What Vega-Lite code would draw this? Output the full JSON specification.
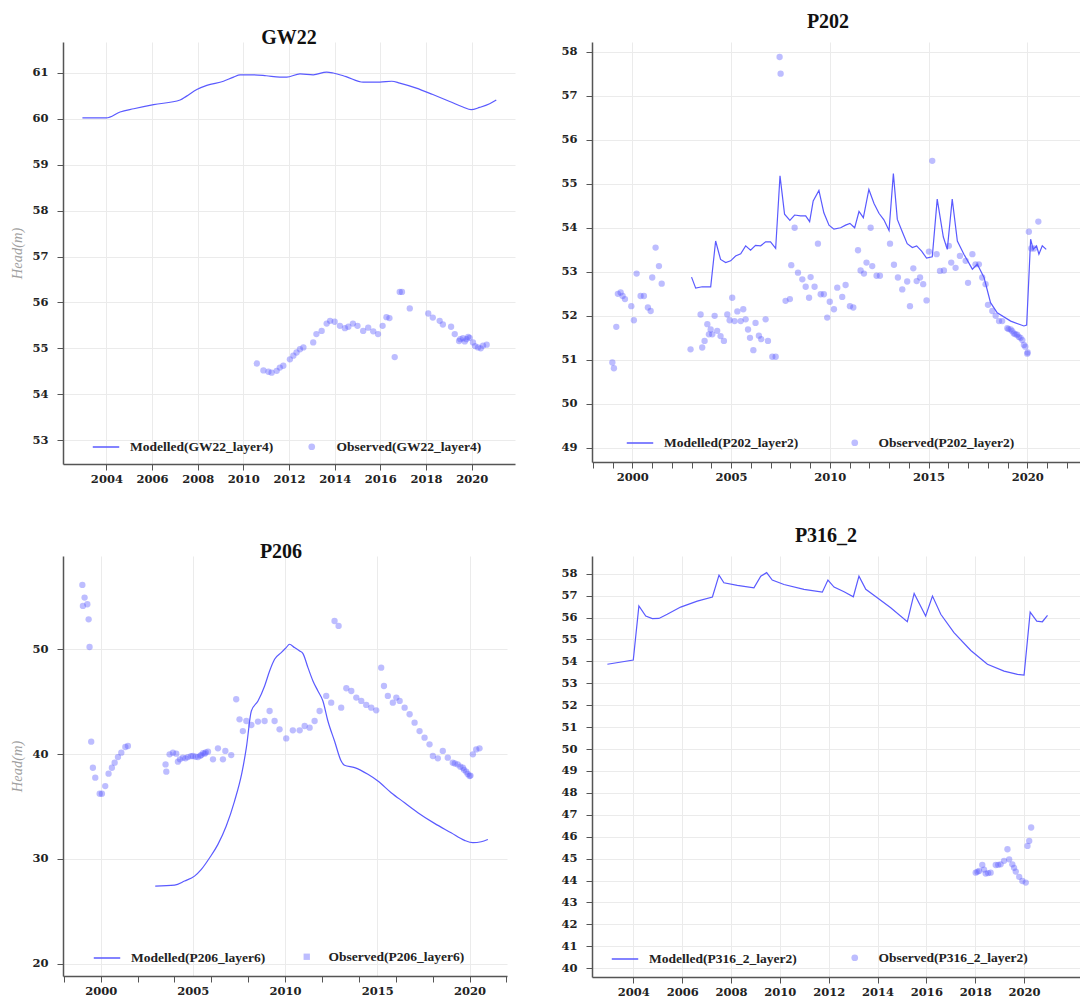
{
"$schema":"https://vega.github.io/schema/vega-lite/v6.json",
"padding":{"left":9,"top":12,"right":0,"bottom":0},
"autosize":{"type":"pad"},
"datasets":{
"gw22_m":[{"year":2002.95,"head":60.02},{"year":2004.0,"head":60.02},{"year":2004.6,"head":60.15},{"year":2005.2,"head":60.22},{"year":2006.07,"head":60.31},{"year":2007.23,"head":60.41},{"year":2007.5,"head":60.49},{"year":2007.96,"head":60.64},{"year":2008.4,"head":60.73},{"year":2009.13,"head":60.82},{"year":2009.57,"head":60.91},{"year":2009.86,"head":60.96},{"year":2010.44,"head":60.96},{"year":2011.0,"head":60.94},{"year":2011.6,"head":60.91},{"year":2011.9,"head":60.91},{"year":2012.48,"head":60.98},{"year":2013.06,"head":60.96},{"year":2013.65,"head":61.02},{"year":2013.94,"head":61.0},{"year":2014.5,"head":60.92},{"year":2015.25,"head":60.8},{"year":2015.98,"head":60.8},{"year":2016.5,"head":60.82},{"year":2016.85,"head":60.78},{"year":2017.58,"head":60.67},{"year":2018.3,"head":60.53},{"year":2019.04,"head":60.38},{"year":2019.62,"head":60.26},{"year":2019.98,"head":60.2},{"year":2020.35,"head":60.25},{"year":2020.79,"head":60.33},{"year":2021.08,"head":60.41}],
"gw22_o":[{"year":2010.59,"head":54.67},{"year":2010.88,"head":54.52},{"year":2011.1,"head":54.49},{"year":2011.24,"head":54.47},{"year":2011.46,"head":54.51},{"year":2011.6,"head":54.58},{"year":2011.75,"head":54.62},{"year":2012.04,"head":54.76},{"year":2012.19,"head":54.84},{"year":2012.33,"head":54.91},{"year":2012.48,"head":54.98},{"year":2012.63,"head":55.02},{"year":2013.06,"head":55.13},{"year":2013.2,"head":55.31},{"year":2013.43,"head":55.38},{"year":2013.65,"head":55.54},{"year":2013.8,"head":55.6},{"year":2014.0,"head":55.58},{"year":2014.23,"head":55.49},{"year":2014.45,"head":55.44},{"year":2014.6,"head":55.47},{"year":2014.8,"head":55.54},{"year":2015.0,"head":55.49},{"year":2015.25,"head":55.38},{"year":2015.47,"head":55.45},{"year":2015.69,"head":55.37},{"year":2015.9,"head":55.31},{"year":2016.1,"head":55.49},{"year":2016.27,"head":55.68},{"year":2016.4,"head":55.66},{"year":2016.63,"head":54.81},{"year":2016.85,"head":56.23},{"year":2016.95,"head":56.23},{"year":2017.29,"head":55.87},{"year":2018.1,"head":55.76},{"year":2018.3,"head":55.67},{"year":2018.6,"head":55.6},{"year":2018.74,"head":55.52},{"year":2019.1,"head":55.47},{"year":2019.26,"head":55.31},{"year":2019.45,"head":55.16},{"year":2019.5,"head":55.2},{"year":2019.62,"head":55.22},{"year":2019.7,"head":55.15},{"year":2019.77,"head":55.2},{"year":2019.85,"head":55.25},{"year":2019.91,"head":55.23},{"year":2020.06,"head":55.13},{"year":2020.15,"head":55.05},{"year":2020.28,"head":55.02},{"year":2020.4,"head":55.0},{"year":2020.5,"head":55.06},{"year":2020.66,"head":55.08}],
"p202_m":[{"year":2003.0,"head":52.88},{"year":2003.21,"head":52.63},{"year":2003.54,"head":52.66},{"year":2003.97,"head":52.66},{"year":2004.22,"head":53.7},{"year":2004.47,"head":53.28},{"year":2004.73,"head":53.21},{"year":2004.98,"head":53.25},{"year":2005.23,"head":53.36},{"year":2005.49,"head":53.41},{"year":2005.74,"head":53.59},{"year":2005.99,"head":53.49},{"year":2006.24,"head":53.6},{"year":2006.5,"head":53.59},{"year":2006.75,"head":53.68},{"year":2007.0,"head":53.68},{"year":2007.26,"head":53.53},{"year":2007.48,"head":55.18},{"year":2007.71,"head":54.31},{"year":2007.98,"head":54.17},{"year":2008.22,"head":54.29},{"year":2008.52,"head":54.27},{"year":2008.78,"head":54.27},{"year":2008.98,"head":54.14},{"year":2009.16,"head":54.61},{"year":2009.45,"head":54.85},{"year":2009.7,"head":54.34},{"year":2009.96,"head":54.06},{"year":2010.21,"head":53.97},{"year":2010.55,"head":54.0},{"year":2010.8,"head":54.06},{"year":2011.02,"head":54.1},{"year":2011.26,"head":54.0},{"year":2011.48,"head":54.37},{"year":2011.7,"head":54.23},{"year":2011.98,"head":54.87},{"year":2012.24,"head":54.55},{"year":2012.49,"head":54.33},{"year":2012.74,"head":54.18},{"year":2013.0,"head":53.94},{"year":2013.22,"head":55.23},{"year":2013.42,"head":54.19},{"year":2013.67,"head":53.91},{"year":2013.92,"head":53.64},{"year":2014.18,"head":53.55},{"year":2014.4,"head":53.59},{"year":2014.65,"head":53.47},{"year":2014.9,"head":53.31},{"year":2015.19,"head":53.34},{"year":2015.44,"head":54.65},{"year":2015.75,"head":53.79},{"year":2015.95,"head":53.51},{"year":2016.2,"head":54.65},{"year":2016.46,"head":53.7},{"year":2016.79,"head":53.4},{"year":2017.22,"head":53.06},{"year":2017.47,"head":53.17},{"year":2017.81,"head":52.87},{"year":2018.14,"head":52.3},{"year":2018.48,"head":52.07},{"year":2019.16,"head":51.88},{"year":2019.83,"head":51.77},{"year":2019.97,"head":51.79},{"year":2020.17,"head":53.74},{"year":2020.3,"head":53.51},{"year":2020.47,"head":53.59},{"year":2020.59,"head":53.4},{"year":2020.76,"head":53.59},{"year":2020.96,"head":53.51}],
"p202_o":[{"year":1998.99,"head":50.94},{"year":1999.07,"head":50.81},{"year":1999.19,"head":51.75},{"year":1999.27,"head":52.5},{"year":1999.41,"head":52.53},{"year":1999.51,"head":52.45},{"year":1999.63,"head":52.38},{"year":1999.95,"head":52.22},{"year":2000.08,"head":51.9},{"year":2000.22,"head":52.96},{"year":2000.42,"head":52.45},{"year":2000.59,"head":52.45},{"year":2000.79,"head":52.19},{"year":2000.93,"head":52.11},{"year":2001.01,"head":52.87},{"year":2001.18,"head":53.55},{"year":2001.35,"head":53.13},{"year":2001.49,"head":52.73},{"year":2002.95,"head":51.24},{"year":2003.46,"head":52.03},{"year":2003.54,"head":51.28},{"year":2003.66,"head":51.43},{"year":2003.8,"head":51.81},{"year":2003.88,"head":51.58},{"year":2003.97,"head":51.69},{"year":2004.05,"head":51.58},{"year":2004.17,"head":52.0},{"year":2004.3,"head":51.66},{"year":2004.47,"head":51.54},{"year":2004.64,"head":51.43},{"year":2004.81,"head":52.03},{"year":2004.93,"head":51.9},{"year":2005.06,"head":52.41},{"year":2005.18,"head":51.88},{"year":2005.32,"head":52.1},{"year":2005.49,"head":51.88},{"year":2005.62,"head":52.15},{"year":2005.74,"head":51.92},{"year":2005.86,"head":51.69},{"year":2005.96,"head":51.5},{"year":2006.13,"head":51.22},{"year":2006.24,"head":51.84},{"year":2006.41,"head":51.55},{"year":2006.53,"head":51.47},{"year":2006.75,"head":51.92},{"year":2006.87,"head":51.43},{"year":2007.09,"head":51.07},{"year":2007.26,"head":51.07},{"year":2007.46,"head":57.88},{"year":2007.51,"head":57.5},{"year":2007.76,"head":52.34},{"year":2007.98,"head":52.38},{"year":2008.05,"head":53.15},{"year":2008.22,"head":54.0},{"year":2008.39,"head":52.98},{"year":2008.61,"head":52.83},{"year":2008.78,"head":52.66},{"year":2008.95,"head":52.41},{"year":2009.03,"head":52.88},{"year":2009.23,"head":52.66},{"year":2009.4,"head":53.64},{"year":2009.54,"head":52.49},{"year":2009.7,"head":52.49},{"year":2009.87,"head":51.96},{"year":2010.0,"head":52.32},{"year":2010.21,"head":52.15},{"year":2010.38,"head":52.64},{"year":2010.63,"head":52.43},{"year":2010.8,"head":52.7},{"year":2011.02,"head":52.22},{"year":2011.19,"head":52.19},{"year":2011.43,"head":53.49},{"year":2011.56,"head":53.03},{"year":2011.73,"head":52.96},{"year":2011.86,"head":53.21},{"year":2012.07,"head":54.0},{"year":2012.15,"head":53.13},{"year":2012.37,"head":52.91},{"year":2012.54,"head":52.91},{"year":2013.05,"head":53.64},{"year":2013.25,"head":53.16},{"year":2013.45,"head":52.87},{"year":2013.67,"head":52.6},{"year":2013.92,"head":52.78},{"year":2014.06,"head":52.22},{"year":2014.23,"head":53.08},{"year":2014.4,"head":52.79},{"year":2014.57,"head":52.87},{"year":2014.73,"head":52.72},{"year":2014.9,"head":52.35},{"year":2015.02,"head":53.46},{"year":2015.19,"head":55.52},{"year":2015.41,"head":53.4},{"year":2015.58,"head":53.02},{"year":2015.78,"head":53.03},{"year":2016.03,"head":53.59},{"year":2016.15,"head":53.21},{"year":2016.37,"head":53.09},{"year":2016.59,"head":53.36},{"year":2016.88,"head":53.25},{"year":2017.0,"head":52.75},{"year":2017.22,"head":53.4},{"year":2017.38,"head":53.17},{"year":2017.55,"head":53.17},{"year":2017.72,"head":52.87},{"year":2017.89,"head":52.72},{"year":2018.01,"head":52.25},{"year":2018.23,"head":52.11},{"year":2018.4,"head":52.0},{"year":2018.57,"head":51.88},{"year":2018.73,"head":51.88},{"year":2018.99,"head":51.72},{"year":2019.05,"head":51.7},{"year":2019.16,"head":51.69},{"year":2019.24,"head":51.65},{"year":2019.32,"head":51.6},{"year":2019.4,"head":51.58},{"year":2019.49,"head":51.57},{"year":2019.57,"head":51.52},{"year":2019.66,"head":51.5},{"year":2019.75,"head":51.45},{"year":2019.83,"head":51.34},{"year":2019.9,"head":51.3},{"year":2020.0,"head":51.14},{"year":2020.02,"head":51.17},{"year":2020.08,"head":53.91},{"year":2020.2,"head":53.53},{"year":2020.34,"head":53.53},{"year":2020.56,"head":54.14}],
"p206_m":[{"year":2002.96,"head":27.41},{"year":2004.01,"head":27.5},{"year":2004.55,"head":27.89},{"year":2005.09,"head":28.36},{"year":2005.46,"head":29.0},{"year":2005.91,"head":30.11},{"year":2006.36,"head":31.39},{"year":2006.81,"head":33.14},{"year":2007.26,"head":35.52},{"year":2007.66,"head":38.23},{"year":2007.9,"head":40.61},{"year":2008.17,"head":44.11},{"year":2008.53,"head":45.07},{"year":2008.89,"head":46.5},{"year":2009.16,"head":47.93},{"year":2009.43,"head":49.05},{"year":2009.79,"head":49.68},{"year":2010.06,"head":50.16},{"year":2010.24,"head":50.48},{"year":2010.51,"head":50.16},{"year":2010.79,"head":49.84},{"year":2010.97,"head":49.59},{"year":2011.24,"head":48.25},{"year":2011.51,"head":46.98},{"year":2011.78,"head":46.02},{"year":2012.05,"head":45.07},{"year":2012.32,"head":43.16},{"year":2012.68,"head":41.25},{"year":2013.04,"head":39.34},{"year":2013.22,"head":38.93},{"year":2013.77,"head":38.71},{"year":2014.49,"head":38.07},{"year":2015.03,"head":37.43},{"year":2015.75,"head":36.32},{"year":2016.48,"head":35.36},{"year":2017.2,"head":34.41},{"year":2018.1,"head":33.39},{"year":2019.0,"head":32.5},{"year":2019.73,"head":31.77},{"year":2020.18,"head":31.55},{"year":2020.63,"head":31.64},{"year":2020.99,"head":31.86}],
"p206_o":[{"year":1999.01,"head":56.14},{"year":1999.13,"head":54.93},{"year":1999.04,"head":54.14},{"year":1999.28,"head":54.3},{"year":1999.35,"head":52.86},{"year":1999.4,"head":50.22},{"year":1999.49,"head":41.19},{"year":1999.58,"head":38.7},{"year":1999.71,"head":37.75},{"year":1999.95,"head":36.22},{"year":2000.07,"head":36.22},{"year":2000.25,"head":36.95},{"year":2000.43,"head":38.13},{"year":2000.61,"head":38.7},{"year":2000.76,"head":39.18},{"year":2000.94,"head":39.72},{"year":2001.12,"head":40.14},{"year":2001.34,"head":40.68},{"year":2001.48,"head":40.77},{"year":2003.52,"head":39.02},{"year":2003.56,"head":38.32},{"year":2003.74,"head":39.98},{"year":2003.92,"head":40.14},{"year":2004.1,"head":40.04},{"year":2004.19,"head":39.28},{"year":2004.3,"head":39.5},{"year":2004.46,"head":39.66},{"year":2004.6,"head":39.6},{"year":2004.73,"head":39.72},{"year":2004.9,"head":39.8},{"year":2005.0,"head":39.82},{"year":2005.15,"head":39.75},{"year":2005.28,"head":39.72},{"year":2005.4,"head":39.85},{"year":2005.46,"head":39.91},{"year":2005.55,"head":40.1},{"year":2005.64,"head":40.04},{"year":2005.7,"head":40.15},{"year":2005.82,"head":40.23},{"year":2006.09,"head":39.5},{"year":2006.36,"head":40.55},{"year":2006.63,"head":39.5},{"year":2006.76,"head":40.3},{"year":2007.08,"head":39.91},{"year":2007.35,"head":45.23},{"year":2007.53,"head":43.32},{"year":2007.71,"head":42.2},{"year":2007.9,"head":43.16},{"year":2008.17,"head":42.78},{"year":2008.53,"head":43.1},{"year":2008.89,"head":43.16},{"year":2009.16,"head":44.11},{"year":2009.43,"head":43.16},{"year":2009.7,"head":42.36},{"year":2010.06,"head":41.5},{"year":2010.42,"head":42.27},{"year":2010.79,"head":42.27},{"year":2011.06,"head":42.68},{"year":2011.33,"head":42.52},{"year":2011.6,"head":43.16},{"year":2011.87,"head":44.11},{"year":2012.23,"head":45.55},{"year":2012.5,"head":44.91},{"year":2012.68,"head":52.7},{"year":2012.9,"head":52.23},{"year":2013.04,"head":44.43},{"year":2013.32,"head":46.28},{"year":2013.59,"head":46.02},{"year":2013.86,"head":45.39},{"year":2014.13,"head":45.07},{"year":2014.4,"head":44.69},{"year":2014.67,"head":44.43},{"year":2014.94,"head":44.18},{"year":2015.21,"head":48.25},{"year":2015.36,"head":46.5},{"year":2015.57,"head":45.55},{"year":2015.84,"head":44.91},{"year":2016.03,"head":45.39},{"year":2016.21,"head":45.07},{"year":2016.48,"head":44.43},{"year":2016.75,"head":43.8},{"year":2017.02,"head":43.0},{"year":2017.29,"head":42.2},{"year":2017.56,"head":41.57},{"year":2017.83,"head":40.93},{"year":2018.01,"head":39.82},{"year":2018.28,"head":39.6},{"year":2018.55,"head":40.3},{"year":2018.82,"head":39.66},{"year":2019.09,"head":39.18},{"year":2019.2,"head":39.1},{"year":2019.36,"head":39.02},{"year":2019.5,"head":38.8},{"year":2019.64,"head":38.7},{"year":2019.7,"head":38.5},{"year":2019.82,"head":38.32},{"year":2019.9,"head":38.1},{"year":2020.0,"head":37.91},{"year":2020.05,"head":37.95},{"year":2020.18,"head":39.98},{"year":2020.36,"head":40.45},{"year":2020.54,"head":40.55}],
"p316_m":[{"year":2002.94,"head":53.87},{"year":2004.0,"head":54.06},{"year":2004.23,"head":56.53},{"year":2004.51,"head":56.07},{"year":2004.78,"head":55.95},{"year":2005.05,"head":55.96},{"year":2005.39,"head":56.15},{"year":2005.94,"head":56.48},{"year":2006.62,"head":56.75},{"year":2007.24,"head":56.94},{"year":2007.51,"head":57.94},{"year":2007.71,"head":57.59},{"year":2008.26,"head":57.47},{"year":2008.94,"head":57.36},{"year":2009.22,"head":57.89},{"year":2009.46,"head":58.05},{"year":2009.69,"head":57.71},{"year":2010.17,"head":57.51},{"year":2010.99,"head":57.29},{"year":2011.74,"head":57.16},{"year":2011.97,"head":57.71},{"year":2012.22,"head":57.39},{"year":2012.63,"head":57.18},{"year":2013.01,"head":56.95},{"year":2013.24,"head":57.89},{"year":2013.52,"head":57.29},{"year":2013.99,"head":56.91},{"year":2014.54,"head":56.45},{"year":2015.22,"head":55.81},{"year":2015.5,"head":57.1},{"year":2015.97,"head":56.07},{"year":2016.25,"head":56.98},{"year":2016.59,"head":56.15},{"year":2017.13,"head":55.31},{"year":2017.82,"head":54.5},{"year":2018.5,"head":53.87},{"year":2019.18,"head":53.56},{"year":2019.73,"head":53.41},{"year":2020.0,"head":53.38},{"year":2020.25,"head":56.25},{"year":2020.52,"head":55.84},{"year":2020.75,"head":55.81},{"year":2020.96,"head":56.1}],
"p316_o":[{"year":2018.02,"head":44.36},{"year":2018.09,"head":44.4},{"year":2018.16,"head":44.44},{"year":2018.29,"head":44.71},{"year":2018.36,"head":44.5},{"year":2018.43,"head":44.32},{"year":2018.53,"head":44.34},{"year":2018.63,"head":44.36},{"year":2018.84,"head":44.71},{"year":2018.94,"head":44.72},{"year":2019.04,"head":44.74},{"year":2019.18,"head":44.9},{"year":2019.32,"head":45.43},{"year":2019.39,"head":44.97},{"year":2019.52,"head":44.74},{"year":2019.59,"head":44.58},{"year":2019.66,"head":44.41},{"year":2019.8,"head":44.17},{"year":2019.93,"head":43.98},{"year":2020.07,"head":43.91},{"year":2020.14,"head":45.58},{"year":2020.21,"head":45.81},{"year":2020.29,"head":46.42}]
},
"columns":2,
"bounds":"flush",
"spacing":{"row":92,"column":77},
"resolve":{"scale":{"color":"independent","stroke":"independent"},"legend":{"color":"independent","stroke":"independent"}},
"concat":[
{"title":{"text":"GW22","offset":-6},"width":452,"height":422,
"encoding":{"x":{"field":"year","type":"quantitative","scale":{"domain":[2002.1,2021.9],"nice":false,"zero":false},"axis":{"values":[2004,2006,2008,2010,2012,2014,2016,2018,2020],"format":"d","title":null}},
"y":{"field":"head","type":"quantitative","scale":{"domain":[52.48,61.675],"nice":false,"zero":false},"axis":{"values":[53,54,55,56,57,58,59,60,61],"title":"Head(m)"}}},
"layer":[
{"data":{"name":"gw22_o"},"mark":{"type":"point","filled":true,"size":40,"opacity":0.4},"encoding":{"color":{"datum":"Observed(GW22_layer4)","type":"nominal","scale":{"range":["#5a5aff"]},"legend":{"orient":"none","legendX":242,"legendY":398,"title":null,"symbolSize":45,"labelOffset":18,"labelFontWeight":"bold","labelFontSize":13.5}}}},
{"data":{"name":"gw22_m"},"mark":{"type":"line","strokeWidth":1.2,"interpolate":"monotone"},"encoding":{"stroke":{"datum":"Modelled(GW22_layer4)","type":"nominal","scale":{"range":["#5a5aff"]},"legend":{"orient":"none","legendX":29,"legendY":391,"title":null,"symbolSize":700,"labelOffset":10,"labelFontWeight":"bold","labelFontSize":13.5}}}}
]},
{"title":{"text":"P202","offset":10,"dx":-8},"width":488,"height":420,
"encoding":{"x":{"field":"year","type":"quantitative","scale":{"domain":[1997.96,2022.67],"nice":false,"zero":false},"axis":{"values":[1998,1999,2000,2001,2002,2003,2004,2005,2006,2007,2008,2009,2010,2011,2012,2013,2014,2015,2016,2017,2018,2019,2020,2021,2022],"labelExpr":"datum.value % 5 === 0 ? datum.label : ''","format":"d","title":null,"gridOpacity":{"condition":{"test":"datum.value % 5 === 0","value":1},"value":0}}},
"y":{"field":"head","type":"quantitative","scale":{"domain":[48.68,58.22],"nice":false,"zero":false},"axis":{"values":[49,50,51,52,53,54,55,56,57,58],"title":null}}},
"layer":[
{"data":{"name":"p202_o"},"mark":{"type":"point","filled":true,"size":40,"opacity":0.4},"encoding":{"color":{"datum":"Observed(P202_layer2)","type":"nominal","scale":{"range":["#5a5aff"]},"legend":{"orient":"none","legendX":256,"legendY":394,"title":null,"symbolSize":45,"labelOffset":17,"labelFontWeight":"bold","labelFontSize":13.5}}}},
{"data":{"name":"p202_m"},"mark":{"type":"line","strokeWidth":1.2},"encoding":{"stroke":{"datum":"Modelled(P202_layer2)","type":"nominal","scale":{"range":["#5a5aff"]},"legend":{"orient":"none","legendX":34,"legendY":387,"title":null,"symbolSize":700,"labelOffset":10,"labelFontWeight":"bold","labelFontSize":13.5}}}}
]},
{"title":{"text":"P206","offset":-6,"dx":-4},"width":444,"height":420,
"encoding":{"x":{"field":"year","type":"quantitative","scale":{"domain":[1997.96,2022.03],"nice":false,"zero":false},"axis":{"values":[1998,2000,2002,2004,2005,2006,2008,2010,2012,2014,2015,2016,2018,2020,2022],"labelExpr":"datum.value % 5 === 0 ? datum.label : ''","format":"d","title":null,"tickOpacity":{"condition":{"test":"datum.value % 2 === 0","value":1},"value":0},"gridOpacity":{"condition":{"test":"datum.value % 5 === 0","value":1},"value":0}}},
"y":{"field":"head","type":"quantitative","scale":{"domain":[18.83,58.9],"nice":false,"zero":false},"axis":{"values":[20,30,40,50],"title":"Head(m)"}}},
"layer":[
{"data":{"name":"p206_o"},"mark":{"type":"point","filled":true,"size":40,"opacity":0.4},"encoding":{"color":{"datum":"Observed(P206_layer6)","type":"nominal","scale":{"range":["#5a5aff"]},"legend":{"orient":"none","legendX":237,"legendY":394,"title":null,"symbolSize":40,"symbolType":"square","labelOffset":15,"labelFontWeight":"bold","labelFontSize":13.5}}}},
{"data":{"name":"p206_m"},"mark":{"type":"line","strokeWidth":1.2,"interpolate":"monotone"},"encoding":{"stroke":{"datum":"Modelled(P206_layer6)","type":"nominal","scale":{"range":["#5a5aff"]},"legend":{"orient":"none","legendX":30,"legendY":388,"title":null,"symbolSize":700,"labelOffset":10,"labelFontWeight":"bold","labelFontSize":13.5}}}}
]},
{"title":{"text":"P316_2","offset":10,"dx":-10},"width":488,"height":421,
"encoding":{"x":{"field":"year","type":"quantitative","scale":{"domain":[2002.31,2022.29],"nice":false,"zero":false},"axis":{"values":[2004,2006,2008,2010,2012,2014,2016,2018,2020],"format":"d","title":null}},
"y":{"field":"head","type":"quantitative","scale":{"domain":[39.6,58.81],"nice":false,"zero":false},"axis":{"values":[40,41,42,43,44,45,46,47,48,49,50,51,52,53,54,55,56,57,58],"title":null}}},
"layer":[
{"data":{"name":"p316_o"},"mark":{"type":"point","filled":true,"size":40,"opacity":0.4},"encoding":{"color":{"datum":"Observed(P316_2_layer2)","type":"nominal","scale":{"range":["#5a5aff"]},"legend":{"orient":"none","legendX":256,"legendY":395,"title":null,"symbolSize":45,"labelOffset":17,"labelFontWeight":"bold","labelFontSize":13.5}}}},
{"data":{"name":"p316_m"},"mark":{"type":"line","strokeWidth":1.2},"encoding":{"stroke":{"datum":"Modelled(P316_2_layer2)","type":"nominal","scale":{"range":["#5a5aff"]},"legend":{"orient":"none","legendX":19,"legendY":389,"title":null,"symbolSize":700,"labelOffset":10,"labelFontWeight":"bold","labelFontSize":13.5}}}}
]}
],
"config":{
"view":{"stroke":null},
"font":"Liberation Serif",
"axis":{"labelFont":"DejaVu Serif","labelFontSize":11.5,"labelFontWeight":"bold","labelColor":"#222","domainColor":"#555","domainWidth":1.5,"tickColor":"#555","tickSize":6,"tickWidth":1,"gridColor":"#ebebeb","gridWidth":1,"titleFont":"Liberation Serif","titleFontStyle":"italic","titleFontWeight":"normal","titleColor":"#a0a0a0","titleFontSize":14.5,"titlePadding":7},
"axisY":{"labelPadding":9},
"axisX":{"labelPadding":3},
"title":{"font":"Liberation Serif","fontSize":20,"fontWeight":"bold","color":"#111","anchor":"middle"},
"legend":{"labelFont":"Liberation Serif","labelFontSize":13.5,"labelFontWeight":"bold","labelColor":"#222","labelLimit":400,"symbolStrokeWidth":1.5,"padding":0}
}
}
